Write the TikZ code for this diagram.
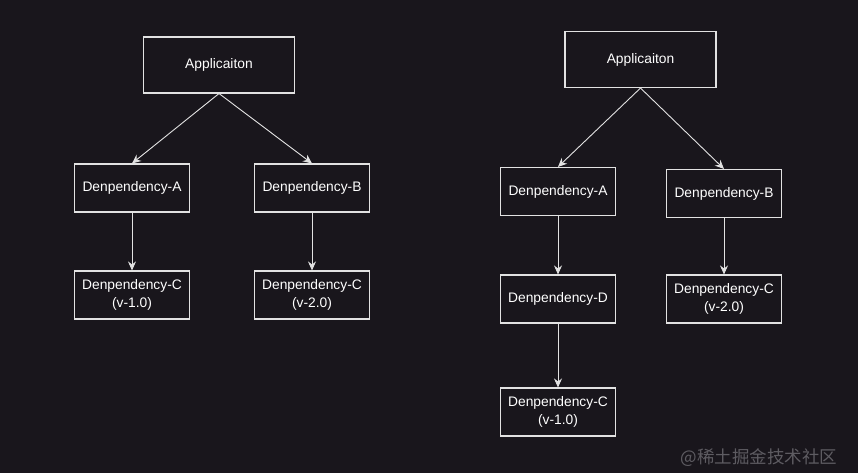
\documentclass[tikz,border=0pt]{standalone}
\usepackage{fontspec}
\setmainfont{Liberation Sans}
\newfontfamily\cjkfont{Noto Sans CJK SC}
\usetikzlibrary{positioning,arrows.meta}
\definecolor{darkbg}{HTML}{19161C}
\definecolor{boxline}{HTML}{E2E2E2}
\definecolor{marktext}{HTML}{5E5C62}

\begin{document}
\begin{tikzpicture}[x=1pt, y=1pt,
    every node/.style={font=\fontsize{13.8}{17.5}\selectfont, text=white},
    dep/.style={draw=boxline, line width=1.1pt, fill=darkbg, align=center,
                minimum width=115pt, minimum height=48pt, inner sep=0pt},
    app/.style={dep, minimum width=151pt, minimum height=56pt},
    link/.style={draw=boxline, line width=0.9pt, -{Stealth[length=9pt, width=8pt, inset=3pt]}}]
      % Background
      \fill[darkbg] (0,0) rectangle (858,473);
      \useasboundingbox (0,0) rectangle (858,473);
      % Left tree
      \node[app] (appL) at (219,408) {Applicaiton};
      \node[dep] (depAL) at (132,285) {Denpendency-A};
      \node[dep] (depBL) at (312,285) {Denpendency-B};
      \node[dep] (depC1L) at (132,178) {Denpendency-C\\(v-1.0)};
      \node[dep] (depC2L) at (312,178) {Denpendency-C\\(v-2.0)};
      \draw[link] (appL.south) -- (depAL.north);
      \draw[link] (appL.south) -- (depBL.north);
      \draw[link] (depAL) -- (depC1L);
      \draw[link] (depBL) -- (depC2L);
      % Right tree
      \node[app] (appR) at (640.5,413.5) {Applicaiton};
      \node[dep] (depAR) at (558,281.5) {Denpendency-A};
      \node[dep] (depBR) at (724,279.5) {Denpendency-B};
      \node[dep] (depDR) at (558,174) {Denpendency-D};
      \node[dep] (depC2R) at (724,174) {Denpendency-C\\(v-2.0)};
      \node[dep] (depC1R) at (558,61) {Denpendency-C\\(v-1.0)};
      \draw[link] (appR.south) -- (depAR.north);
      \draw[link] (appR.south) -- (depBR.north);
      \draw[link] (depAR) -- (depDR);
      \draw[link] (depDR) -- (depC1R);
      \draw[link] (depBR) -- (depC2R);
      % Watermark
      \node[anchor=east, text=marktext, font=\cjkfont\fontsize{17.5}{20}\selectfont] (mark) at (841,15) {@稀土掘金技术社区};
    \end{tikzpicture}
\end{document}
